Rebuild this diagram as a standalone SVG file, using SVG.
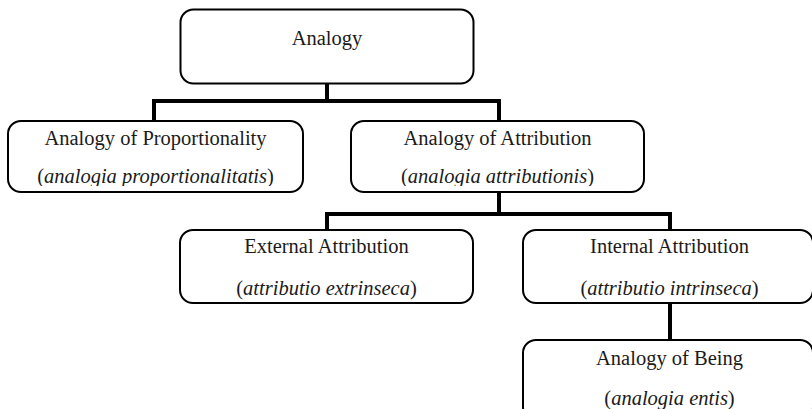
<svg xmlns="http://www.w3.org/2000/svg" width="812" height="409" viewBox="0 0 812 409">
<style>
.box{fill:#fff;stroke:#000;stroke-width:2}
.t{font-size:20.5px;fill:#1a1a1a;text-anchor:middle}
.i{font-style:italic}
.conn{fill:none;stroke:#000;stroke-width:4;stroke-linejoin:miter;stroke-linecap:butt}
</style>
<defs>
<clipPath id="c1"><rect x="8" y="121" width="295" height="65"/></clipPath>
<clipPath id="c2"><rect x="351" y="121" width="293" height="65"/></clipPath>
</defs>
<rect width="812" height="409" fill="#fff"/>
<g id="connectors">
<path class="conn" d="M327,83 V101 M154,121 V101 H499 V121"/>
<path class="conn" d="M499,192 V214 M327,230 V214 H670 V230"/>
<path class="conn" d="M670,303 V340"/>
</g>
<g font-family="Liberation Serif, Times New Roman, DejaVu Serif, serif">
<g id="analogy">
<rect class="box" x="180.5" y="9.5" width="293" height="74" rx="13"/>
<text class="t" x="327" y="45">Analogy</text>
</g>
<g id="proportionality">
<rect class="box" x="8" y="121" width="295" height="71" rx="13"/>
<text class="t" x="155.5" y="145">Analogy of Proportionality</text>
<text class="t" x="155.5" y="183" clip-path="url(#c1)">(<tspan class="i">analogia proportionalitatis</tspan>)</text>
</g>
<g id="attribution">
<rect class="box" x="351" y="121" width="293" height="71" rx="13"/>
<text class="t" x="497.5" y="145">Analogy of Attribution</text>
<text class="t" x="497.5" y="183" clip-path="url(#c2)">(<tspan class="i">analogia attributionis</tspan>)</text>
</g>
<g id="external">
<rect class="box" x="180" y="230" width="293" height="73" rx="13"/>
<text class="t" x="326.5" y="253">External Attribution</text>
<text class="t" x="326.5" y="295">(<tspan class="i">attributio extrinseca</tspan>)</text>
</g>
<g id="internal">
<rect class="box" x="523" y="230" width="290" height="73" rx="13"/>
<text class="t" x="669.5" y="253">Internal Attribution</text>
<text class="t" x="669.5" y="295">(<tspan class="i">attributio intrinseca</tspan>)</text>
</g>
<g id="being">
<rect class="box" x="523" y="340" width="290" height="80" rx="13"/>
<text class="t" x="669.5" y="365">Analogy of Being</text>
<text class="t" x="669.5" y="405">(<tspan class="i">analogia entis</tspan>)</text>
</g>
</g>
</svg>
